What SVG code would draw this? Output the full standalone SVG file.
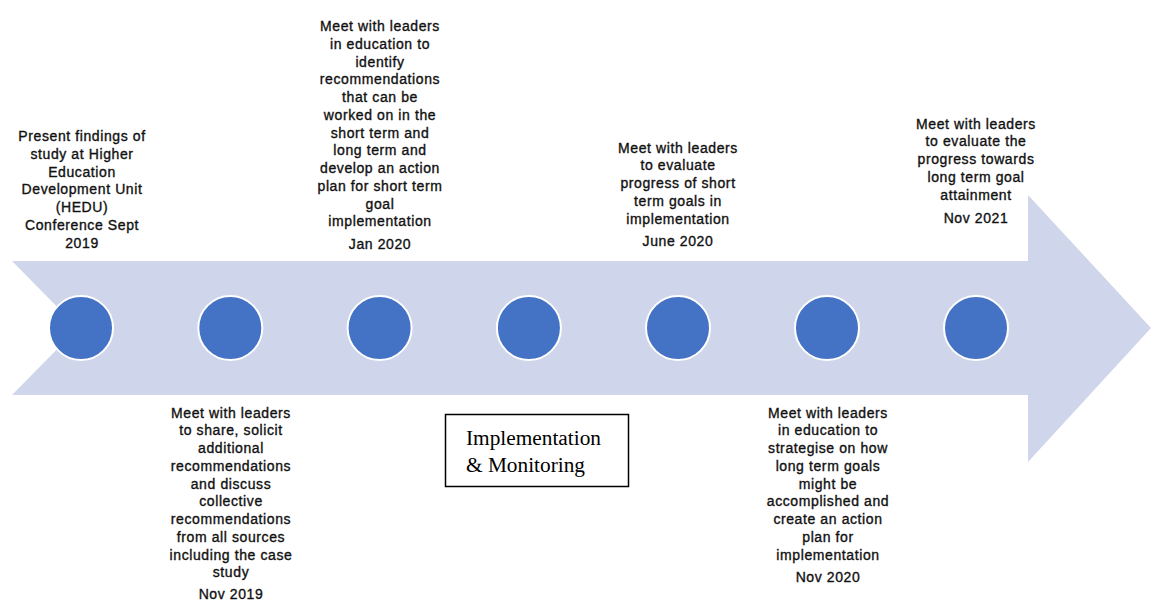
<svg xmlns="http://www.w3.org/2000/svg" width="1151" height="601" viewBox="0 0 1151 601">
<style>
.t{font-family:"Liberation Sans",Arial,sans-serif;font-size:14px;letter-spacing:0.6px;fill:#111;stroke:#111;stroke-width:0.35px;text-anchor:middle}
.dot{fill:#4472C4;stroke:#fff;stroke-width:2}
.box{fill:#fff;stroke:#000;stroke-width:1.5}
.serif{font-family:"Liberation Serif","Times New Roman",serif;font-size:20px;fill:#000}
</style>
<rect width="1151" height="601" fill="#fff"/>
<g id="connectors">
<polygon id="timeline-arrow" points="12,261 1028,261 1028,195 1151,328 1028,462 1028,395 12,395 78,328" fill="#CFD5EA"/>
</g>
<g id="node1">
<circle class="dot" cx="81" cy="328" r="32"/>
<text class="t"><tspan x="82" y="141">Present findings of</tspan><tspan x="82" y="158.75">study at Higher</tspan><tspan x="82" y="176.5">Education</tspan><tspan x="82" y="194.25">Development Unit</tspan><tspan x="82" y="212">(HEDU)</tspan><tspan x="82" y="229.75">Conference Sept</tspan><tspan x="82" y="247.5">2019</tspan></text>
</g>
<g id="node2">
<circle class="dot" cx="230.3" cy="328" r="32"/>
<text class="t"><tspan x="231" y="417.5">Meet with leaders</tspan><tspan x="231" y="435.25">to share, solicit</tspan><tspan x="231" y="453">additional</tspan><tspan x="231" y="470.75">recommendations</tspan><tspan x="231" y="488.5">and discuss</tspan><tspan x="231" y="506.25">collective</tspan><tspan x="231" y="524">recommendations</tspan><tspan x="231" y="541.75">from all sources</tspan><tspan x="231" y="559.5">including the case</tspan><tspan x="231" y="577.25">study</tspan><tspan x="231" y="599">Nov 2019</tspan></text>
</g>
<g id="node3">
<circle class="dot" cx="379.6" cy="328" r="32"/>
<text class="t"><tspan x="380" y="31">Meet with leaders</tspan><tspan x="380" y="48.75">in education to</tspan><tspan x="380" y="66.5">identify</tspan><tspan x="380" y="84.25">recommendations</tspan><tspan x="380" y="102">that can be</tspan><tspan x="380" y="119.75">worked on in the</tspan><tspan x="380" y="137.5">short term and</tspan><tspan x="380" y="155.25">long term and</tspan><tspan x="380" y="173">develop an action</tspan><tspan x="380" y="190.75">plan for short term</tspan><tspan x="380" y="208.5">goal</tspan><tspan x="380" y="226.25">implementation</tspan><tspan x="380" y="248.5">Jan 2020</tspan></text>
</g>
<g id="node4">
<circle class="dot" cx="528.9" cy="328" r="32"/>
</g>
<g id="node5">
<circle class="dot" cx="678" cy="328" r="32"/>
<text class="t"><tspan x="678" y="152.5">Meet with leaders</tspan><tspan x="678" y="170.25">to evaluate</tspan><tspan x="678" y="188">progress of short</tspan><tspan x="678" y="205.75">term goals in</tspan><tspan x="678" y="223.5">implementation</tspan><tspan x="678" y="246">June 2020</tspan></text>
</g>
<g id="node6">
<circle class="dot" cx="827" cy="328" r="32"/>
<text class="t"><tspan x="828" y="417.5">Meet with leaders</tspan><tspan x="828" y="435.25">in education to</tspan><tspan x="828" y="453">strategise on how</tspan><tspan x="828" y="470.75">long term goals</tspan><tspan x="828" y="488.5">might be</tspan><tspan x="828" y="506.25">accomplished and</tspan><tspan x="828" y="524">create an action</tspan><tspan x="828" y="541.75">plan for</tspan><tspan x="828" y="559.5">implementation</tspan><tspan x="828" y="581.5">Nov 2020</tspan></text>
</g>
<g id="node7">
<circle class="dot" cx="976" cy="328" r="32"/>
<text class="t"><tspan x="976" y="128.5">Meet with leaders</tspan><tspan x="976" y="146.25">to evaluate the</tspan><tspan x="976" y="164">progress towards</tspan><tspan x="976" y="181.75">long term goal</tspan><tspan x="976" y="199.5">attainment</tspan><tspan x="976" y="222.5">Nov 2021</tspan></text>
</g>
<g id="label-box">
<rect class="box" x="445.5" y="414.5" width="183" height="72"/>
<text class="serif"><tspan x="466" y="445" textLength="135" lengthAdjust="spacingAndGlyphs">Implementation</tspan><tspan x="466" y="472" textLength="119" lengthAdjust="spacingAndGlyphs">&amp; Monitoring</tspan></text>
</g>
</svg>
